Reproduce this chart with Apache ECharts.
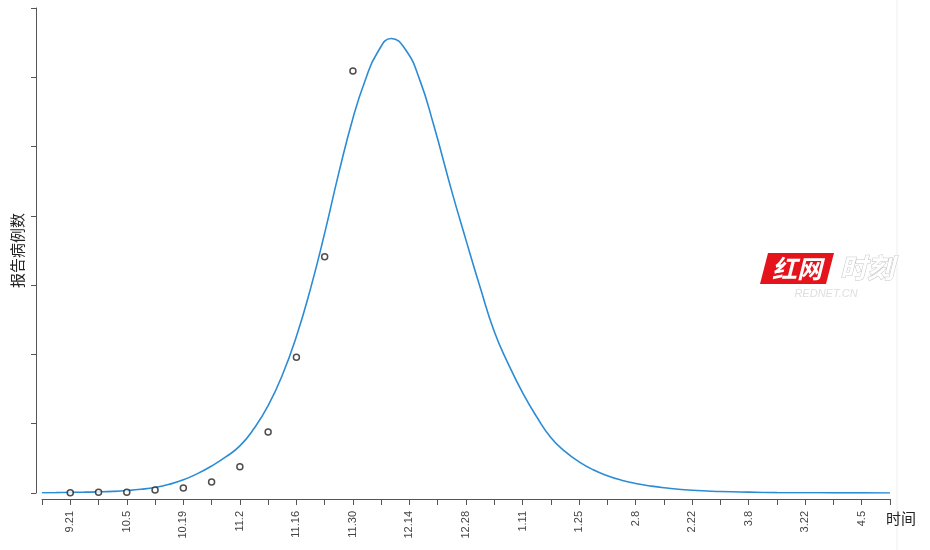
<!DOCTYPE html>
<html>
<head>
<meta charset="utf-8">
<title>报告病例数</title>
<script src="https://cdn.jsdelivr.net/npm/echarts@6/dist/echarts.min.js"></script>
<style>
  html, body { margin: 0; padding: 0; background: #fff; }
  #chart { width: 930px; height: 550px; }
</style>
</head>
<body>
<div id="chart"></div>
<script>
// x axis is days counted from 9.14, one tick per week, label every other week
const weekLabels = ['9.21', '10.5', '10.19', '11.2', '11.16', '11.30', '12.14', '12.28', '1.11', '1.25', '2.8', '2.22', '3.8', '3.22', '4.5']

// reported cases (circles)
const reportDays = [7, 14, 21, 28, 35, 42, 49, 56, 63, 70, 77]
const reportCases = [0.4, 1, 1, 4.3, 7.2, 16, 38, 88, 196, 341, 609]

// fitted curve
const fitDays = [0, 3.5, 7, 10.5, 14, 17.5, 21, 24.5, 28, 31.5, 35, 38.5, 42, 45.5, 49, 52.5, 56, 59.5, 63, 66.5, 70, 73.5, 77, 80, 83, 86.5, 90, 93.5, 97, 101.5, 105, 108.5, 112, 115.5, 119, 122.5, 126, 129.5, 133, 136.5, 140, 143.5, 147, 150.5, 154, 161, 168, 175, 182, 189, 196, 203, 210]
const fitCases = [0.4, 0.6, 0.9, 1.2, 1.6, 2.3, 3.5, 5.3, 8, 12.5, 19, 28, 39, 52, 68, 93, 126, 170, 226, 295, 375, 462, 541, 595, 635, 656, 640, 597, 531, 435, 365, 297, 233, 186, 145, 110, 80, 60, 45, 33.5, 25, 18.5, 13.7, 10.2, 7.6, 4, 2.2, 1.2, 0.6, 0.35, 0.2, 0.15, 0.1]

const chart = echarts.init(document.getElementById('chart'))

const axisColor = '#555'

chart.setOption({
  animation: false,
  grid: {
    left: 42,
    right: 40,
    top: 8,
    bottom: 57
  },
  xAxis: {
    type: 'value',
    min: 0,
    max: 210,
    interval: 7,
    offset: 6,
    name: '时间',
    nameLocation: 'end',
    nameGap: -4,
    nameTextStyle: {
      fontFamily: 'Noto Sans CJK SC',
      fontSize: 15,
      color: '#222',
      verticalAlign: 'top',
      padding: [12, 0, 0, 0]
    },
    splitLine: { show: false },
    axisLine: { onZero: false, lineStyle: { color: axisColor, width: 1 } },
    axisTick: { length: 6, lineStyle: { color: axisColor } },
    axisLabel: {
      rotate: 90,
      margin: 12,
      fontSize: 11,
      fontFamily: 'Liberation Sans',
      color: '#444',
      showMinLabel: true,
      showMaxLabel: true,
      formatter: (v) => (v % 14 === 7 ? weekLabels[(v - 7) / 14] : '')
    }
  },
  yAxis: {
    type: 'value',
    min: 0,
    max: 700,
    interval: 100,
    offset: 6,
    name: '报告病例数',
    nameLocation: 'middle',
    nameGap: 11,
    nameTextStyle: {
      fontFamily: 'Noto Sans CJK SC',
      fontSize: 15,
      color: '#222'
    },
    splitLine: { show: false },
    axisLine: { show: true, onZero: false, lineStyle: { color: axisColor, width: 1 } },
    axisTick: { show: true, length: 5, lineStyle: { color: axisColor } },
    axisLabel: { show: false }
  },
  series: [
    {
      name: '拟合',
      type: 'line',
      data: fitDays.map((d, i) => [d, fitCases[i]]),
      showSymbol: false,
      smooth: 0.5,
      lineStyle: { color: '#2b8cd6', width: 1.6 },
      z: 2
    },
    {
      name: '报告病例',
      type: 'scatter',
      data: reportDays.map((d, i) => [d, reportCases[i]]),
      symbol: 'circle',
      symbolSize: 6,
      itemStyle: { color: '#fff', borderColor: '#222', borderWidth: 1.5 },
      z: 3
    }
  ],
  graphic: [
    {
      type: 'line',
      shape: { x1: 897, y1: 0, x2: 897, y2: 550 },
      style: { stroke: '#efefef', lineWidth: 1 },
      silent: true
    },
    {
      type: 'polygon',
      shape: { points: [[768, 253], [834, 253], [826, 284], [760, 284]] },
      style: { fill: '#e5141c' },
      silent: true
    },
    {
      type: 'text',
      x: 797,
      y: 268,
      style: {
        text: '红网',
        fill: '#fff',
        font: 'italic bold 25px "Noto Sans CJK SC"',
        align: 'center',
        verticalAlign: 'middle'
      },
      silent: true
    },
    {
      type: 'text',
      x: 867,
      y: 268,
      style: {
        text: '时刻',
        fill: '#fff',
        stroke: '#c4c4c4',
        lineWidth: 1,
        font: 'italic bold 27px "Noto Sans CJK SC"',
        align: 'center',
        verticalAlign: 'middle'
      },
      silent: true
    },
    {
      type: 'text',
      x: 826,
      y: 294,
      style: {
        text: 'REDNET.CN',
        fill: '#dedede',
        font: 'italic 11px "Liberation Sans"',
        align: 'center',
        verticalAlign: 'middle'
      },
      silent: true
    }
  ]
})
</script>
</body>
</html>
